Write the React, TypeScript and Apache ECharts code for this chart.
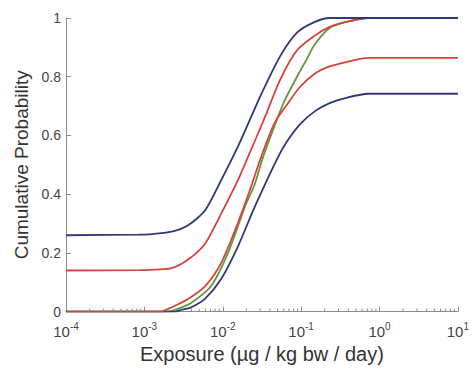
import React, { useEffect, useRef } from "react";
import * as echarts from "echarts";

const navyTopX = [0.0001, 0.000855, 0.00114, 0.00223, 0.00365, 0.00597, 0.00948, 0.0155, 0.0207, 0.0303, 0.0541, 0.0885, 0.145, 0.231, 10];
const navyTopY = [0.26, 0.262, 0.263, 0.272, 0.295, 0.345, 0.446, 0.56, 0.635, 0.735, 0.87, 0.95, 0.985, 1.0, 1.0];

const redTopX = [0.0001, 0.000855, 0.00223, 0.00365, 0.00597, 0.00948, 0.0155, 0.0207, 0.034, 0.0541, 0.0885, 0.149, 0.231, 0.378, 0.714, 10];
const redTopY = [0.14, 0.141, 0.148, 0.178, 0.232, 0.332, 0.446, 0.523, 0.658, 0.79, 0.89, 0.94, 0.97, 0.987, 1.0, 1.0];

const greenX = [0.0001, 0.002, 0.00273, 0.00398, 0.0071, 0.0116, 0.0191, 0.0255, 0.0321, 0.0454, 0.0607, 0.0885, 0.118, 0.149, 0.231, 0.378, 0.714, 10];
const greenY = [0, 0, 0.01, 0.03, 0.087, 0.198, 0.356, 0.433, 0.52, 0.63, 0.715, 0.8, 0.86, 0.91, 0.966, 0.987, 1.0, 1.0];

const redLowX = [0.0001, 0.0016, 0.00223, 0.00365, 0.00597, 0.00948, 0.0155, 0.0226, 0.0303, 0.0454, 0.0701, 0.0966, 0.149, 0.231, 0.378, 0.714, 10];
const redLowY = [0, 0, 0.015, 0.044, 0.087, 0.164, 0.3, 0.42, 0.52, 0.64, 0.715, 0.765, 0.81, 0.835, 0.85, 0.864, 0.864];

const navyLowX = [0.0001, 0.0025, 0.00298, 0.00398, 0.00597, 0.00948, 0.0155, 0.0255, 0.05, 0.0662, 0.0966, 0.149, 0.231, 0.378, 0.714, 10];
const navyLowY = [0, 0, 0.006, 0.015, 0.044, 0.11, 0.22, 0.356, 0.523, 0.58, 0.638, 0.682, 0.71, 0.728, 0.742, 0.742];

const yTicks = [0, 0.2, 0.4, 0.6, 0.8, 1];
const decades = [-4, -3, -2, -1, 0];
const minorMultipliers = [2, 3, 4, 5, 6, 7, 8, 9];

const NAVY = "#2f3878";
const RED = "#d8423d";
const GREEN = "#5f9a3c";

function zip(xs: number[], ys: number[]) {
  return xs.map((x, i) => [x, ys[i]]);
}

export default function App() {
  const ref = useRef<HTMLDivElement>(null);
  useEffect(() => {
    if (!ref.current) return;
    const chart = echarts.init(ref.current, undefined, { renderer: "svg" });
    const minorTicks: number[][] = [];
    decades.forEach((d) => minorMultipliers.forEach((m) => minorTicks.push([m * Math.pow(10, d), 0])));
    const lineSeries = (name: string, data: number[][], color: string) => ({
      name,
      type: "line",
      data,
      showSymbol: false,
      symbol: "none",
      smooth: 0.25,
      lineStyle: { color, width: 1.8 },
      z: 3,
    });
    chart.setOption({
      animation: false,
      backgroundColor: "#ffffff",
      textStyle: { fontFamily: "Liberation Sans, Arial, sans-serif" },
      grid: { left: 66, right: 9, top: 18, bottom: 53, containLabel: false },
      xAxis: {
        type: "log",
        logBase: 10,
        min: 0.0001,
        max: 10,
        name: "Exposure (µg / kg bw / day)",
        nameLocation: "middle",
        nameGap: 21,
        nameTextStyle: { fontSize: 20, color: "#333333" },
        axisLine: { lineStyle: { color: "#8a8a8a", width: 1 } },
        axisTick: { inside: true, length: 5, lineStyle: { color: "#8a8a8a" } },
        splitLine: { show: false },
        axisLabel: {
          margin: 10,
          color: "#444444",
          formatter: (v: number) => `{b|10}{s|${Math.round(Math.log10(v))}}`,
          rich: {
            b: { fontSize: 15, color: "#444444" },
            s: { fontSize: 10, color: "#444444", padding: [0, 0, 10, 0] },
          },
        },
      },
      yAxis: {
        type: "value",
        min: 0,
        max: 1,
        interval: 0.2,
        name: "Cumulative Probability",
        nameLocation: "middle",
        nameGap: 34,
        nameTextStyle: { fontSize: 19, color: "#333333" },
        axisLine: { show: true, lineStyle: { color: "#8a8a8a", width: 1 } },
        axisTick: { show: true, inside: true, length: 5, lineStyle: { color: "#8a8a8a" } },
        splitLine: { show: false },
        axisLabel: {
          margin: 5,
          fontSize: 14,
          color: "#444444",
          formatter: (v: number) => (yTicks.includes(Math.round(v * 10) / 10) ? String(Math.round(v * 10) / 10) : ""),
        },
      },
      series: [
        lineSeries("green", zip(greenX, greenY), GREEN),
        lineSeries("navyLow", zip(navyLowX, navyLowY), NAVY),
        lineSeries("redLow", zip(redLowX, redLowY), RED),
        lineSeries("redTop", zip(redTopX, redTopY), RED),
        lineSeries("navyTop", zip(navyTopX, navyTopY), NAVY),
        {
          type: "custom",
          silent: true,
          data: minorTicks,
          z: 4,
          renderItem: (params: any, api: any) => {
            const p = api.coord([api.value(0), 0]);
            return {
              type: "line",
              shape: { x1: p[0], y1: p[1], x2: p[0], y2: p[1] - 3 },
              style: { stroke: "#8a8a8a", lineWidth: 1 },
            };
          },
        },
      ],
    });
    return () => chart.dispose();
  }, []);
  return <div ref={ref} style={{ width: 472, height: 369, position: "absolute", left: 0, top: 0 }} />;
}
